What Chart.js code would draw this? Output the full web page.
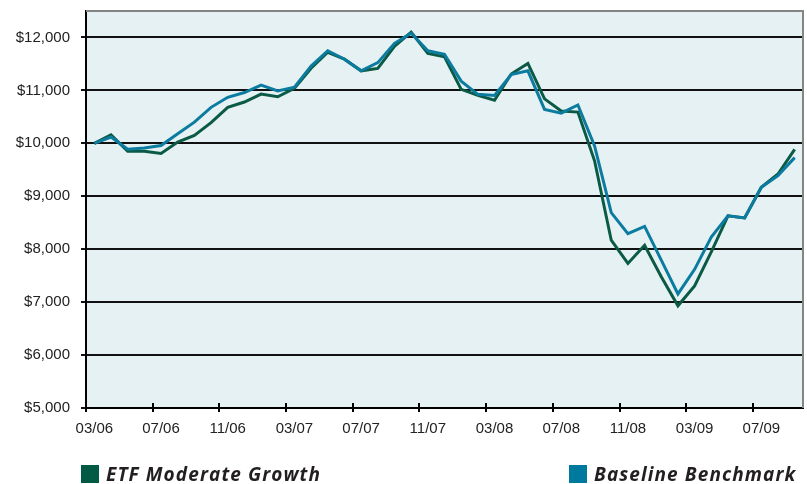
<!DOCTYPE html>
<html>
<head>
<meta charset="utf-8">
<script src="https://cdn.jsdelivr.net/npm/chart.js@4.4.1/dist/chart.umd.min.js"></script>
<style>
  html, body { margin: 0; padding: 0; background: #fff; }
  #wrap { position: relative; width: 807px; height: 484px; }
  .legend { position: absolute; top: 461px; display: flex; align-items: center;
    font-family: "Open Sans", Lato, sans-serif; font-weight: 700; font-style: italic;
    font-size: 19px; letter-spacing: 1.1px; color: #231f20; white-space: nowrap; }
  .legend .sw { width: 18px; height: 18px; margin-right: 7px; }
</style>
</head>
<body>
<div id="wrap">
  <canvas id="chart" width="807" height="484"></canvas>
  <div class="legend" style="left:81px"><span class="sw" style="background:#005a44"></span><span>ETF Moderate Growth</span></div>
  <div class="legend" style="left:569px"><span class="sw" style="background:#00799f"></span><span>Baseline Benchmark</span></div>
</div>
<script>
// monthly points, 03/06 .. 09/09
const months = [
  '03/06','04/06','05/06','06/06','07/06','08/06','09/06','10/06','11/06','12/06',
  '01/07','02/07','03/07','04/07','05/07','06/07','07/07','08/07','09/07','10/07',
  '11/07','12/07','01/08','02/08','03/08','04/08','05/08','06/08','07/08','08/08',
  '09/08','10/08','11/08','12/08','01/09','02/09','03/09','04/09','05/09','06/09',
  '07/09','08/09','09/09'
];

const etfGrowth = [
  10000, 10160, 9850, 9850, 9810, 10025, 10150, 10390, 10680, 10780,
  10930, 10880, 11040, 11420, 11720, 11590, 11370, 11415, 11830, 12100,
  11700, 11635, 11020, 10905, 10815, 11310, 11510, 10840, 10610, 10590,
  9670, 8170, 7730, 8075, 7480, 6930, 7305, 7950, 8630, 8590,
  9170, 9420, 9885
];

const benchmark = [
  10000, 10120, 9890, 9910, 9960, 10180, 10400, 10680, 10870, 10960,
  11100, 10990, 11060, 11460, 11750, 11590, 11370, 11525, 11890, 12080,
  11750, 11680, 11175, 10925, 10905, 11300, 11370, 10640, 10570, 10725,
  9950, 8690, 8295, 8430, 7795, 7155, 7620, 8230, 8630, 8590,
  9170, 9390, 9730
];

const yTicks = [5000, 6000, 7000, 8000, 9000, 10000, 11000, 12000];
const yMin = 5000;
const yMax = 12500;
const labelEvery = 4;

// panel fill + grey top/right frame + x tick marks that cross the axis
const framePlugin = {
  id: 'frame',
  beforeDraw(chart) {
    const { ctx, chartArea: a } = chart;
    ctx.save();
    ctx.fillStyle = '#e6f1f4';
    ctx.fillRect(a.left, a.top, a.right - a.left, a.bottom - a.top);
    ctx.restore();
  },
  beforeDatasetsDraw(chart) {
    const { ctx, chartArea: a } = chart;
    const xs = chart.scales.x;
    ctx.save();
    ctx.strokeStyle = '#858585';
    ctx.lineWidth = 2;
    ctx.beginPath();
    ctx.moveTo(a.left, a.top);
    ctx.lineTo(a.right, a.top);
    ctx.lineTo(a.right, a.bottom);
    ctx.stroke();

    const half = (xs.getPixelForValue(1) - xs.getPixelForValue(0)) / 2;
    ctx.strokeStyle = '#000';
    ctx.beginPath();
    for (let i = 0; i < months.length; i += labelEvery) {
      const x = Math.round(xs.getPixelForValue(i) - half);
      ctx.moveTo(x, a.bottom - 5);
      ctx.lineTo(x, a.bottom + 4);
    }
    ctx.stroke();
    ctx.restore();
  }
};

new Chart(document.getElementById('chart'), {
  type: 'line',
  data: {
    labels: months,
    datasets: [
      {
        label: 'ETF Moderate Growth',
        data: etfGrowth,
        borderColor: '#0b5a45',
        borderWidth: 3,
        pointRadius: 0,
        tension: 0,
        order: 2
      },
      {
        label: 'Baseline Benchmark',
        data: benchmark,
        borderColor: '#0b7c9f',
        borderWidth: 3,
        pointRadius: 0,
        tension: 0,
        order: 1
      }
    ]
  },
  options: {
    responsive: false,
    animation: false,
    layout: { padding: { top: 11, right: 4, bottom: 0, left: 0 } },
    plugins: {
      legend: { display: false },
      tooltip: { enabled: false }
    },
    scales: {
      x: {
        type: 'category',
        offset: true,
        grid: { display: true, drawOnChartArea: false, drawTicks: false },
        border: { color: '#000', width: 2 },
        ticks: {
          autoSkip: false,
          maxRotation: 0,
          padding: 12,
          color: '#222',
          font: { family: '"Liberation Sans", Arial, sans-serif', size: 15 },
          callback: (v, i) => (i % labelEvery === 0 ? months[i] : '')
        },
        afterFit: (s) => { s.height = 76; s.paddingLeft = 0; s.paddingRight = 0; }
      },
      y: {
        min: yMin,
        max: yMax,
        afterBuildTicks: (s) => { s.ticks = yTicks.map((v) => ({ value: v })); },
        grid: {
          color: (c) => (c.tick && c.tick.value === yMin ? 'rgba(0,0,0,0)' : '#111'),
          tickColor: '#111',
          lineWidth: 2,
          tickLength: 5
        },
        border: { color: '#000', width: 2 },
        ticks: {
          autoSkip: false,
          padding: 11,
          color: '#222',
          font: { family: '"Liberation Sans", Arial, sans-serif', size: 15 },
          callback: (v) => '$' + v.toLocaleString('en-US')
        },
        afterFit: (s) => { s.width = 86; s.paddingTop = 0; s.paddingBottom = 0; }
      }
    }
  },
  plugins: [framePlugin]
});
</script>
</body>
</html>
